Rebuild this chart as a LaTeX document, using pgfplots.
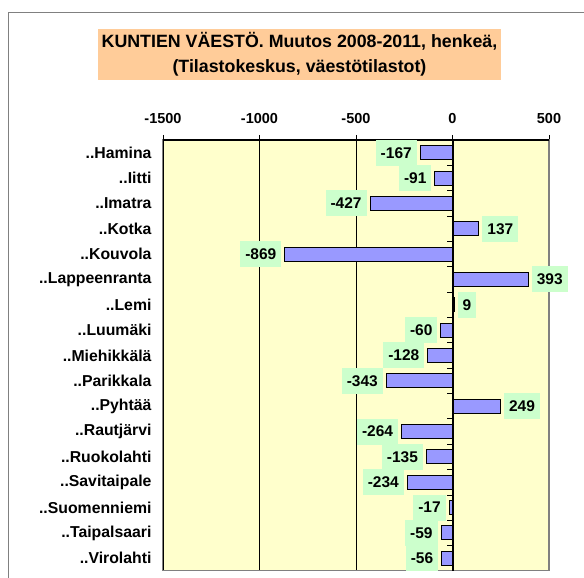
\documentclass[border=0pt]{standalone}
\usepackage{fontspec}
\setmainfont{Liberation Sans}
\usepackage{pgfplots}
\pgfplotsset{compat=1.18}
\definecolor{barfill}{HTML}{9999FF}
\definecolor{plotbg}{HTML}{FFFFCC}
\definecolor{lblbg}{HTML}{CCFFCC}
\definecolor{titlebg}{HTML}{FFCC99}
\definecolor{framegray}{HTML}{808080}

\begin{document}
\begin{tikzpicture}
\useasboundingbox (0pt,0pt) rectangle (584pt,578pt);
\draw[framegray, line width=1pt] (8pt,-5pt) -- (8pt,565pt) -- (590pt,565pt);

\begin{axis}[
  at={(163pt,7pt)}, anchor=south west,
  scale only axis, width=386pt, height=431pt,
  xbar, bar width=14pt, bar shift=0pt,
  xmin=-1500, xmax=500,
  ymin=-0.5, ymax=16.5,
  xtick={-1500,-1000,-500,0,500},
  xtick pos=upper, xticklabel pos=upper,
  tick align=outside,
  major tick length=5pt,
  ytick={0,...,16},
  yticklabels={..Virolahti,..Taipalsaari,..Suomenniemi,..Savitaipale,..Ruokolahti,..Rautjärvi,..Pyhtää,..Parikkala,..Miehikkälä,..Luumäki,..Lemi,..Lappeenranta,..Kouvola,..Kotka,..Imatra,..Iitti,..Hamina},
  ytick style={draw=none},
  xmajorgrids, grid style={black, line width=0.8pt},
  axis background/.style={fill=plotbg},
  axis line style={framegray, line width=1pt},
  x tick style={black, line width=0.8pt},
  /pgf/number format/assume math mode=true,
  /pgf/number format/1000 sep={},
  xticklabel style={font=\bfseries\fontsize{14.5}{16}\selectfont, yshift=8pt},
  yticklabel style={font=\bfseries\fontsize{15.8}{17}\selectfont, xshift=-3pt},
  title={KUNTIEN VÄESTÖ. Muutos 2008-2011, henkeä,\\(Tilastokeskus, väestötilastot)},
  title style={at={(axis description cs:0.3536,1.1844)}, anchor=center,
    fill=titlebg, minimum width=403pt, minimum height=51pt, align=center,
    inner sep=0pt, font=\bfseries\fontsize{17.8}{25}\selectfont},
  nodes near coords,
  every node near coord/.append style={fill=lblbg, text=black,
    font=\bfseries\fontsize{15.5}{17}\selectfont,
    inner xsep=5pt, inner ysep=0pt, minimum height=26pt},
]
% negative changes
\addplot[fill=barfill, draw=black, line width=1pt,
  every node near coord/.append style={anchor=east, xshift=-3pt}]
  coordinates {(-167,16) (-91,15) (-427,14) (-869,12) (-60,9) (-128,8)
    (-343,7) (-264,5) (-135,4) (-234,3) (-17,2) (-59,1) (-56,0)};
% positive changes
\addplot[fill=barfill, draw=black, line width=1pt,
  every node near coord/.append style={anchor=west, xshift=3pt}]
  coordinates {(137,13) (393,11) (9,10) (249,6)};

\draw[framegray, line width=2pt] (axis cs:500,16.5) -- (axis cs:500,-0.5) -- (axis cs:-1500,-0.5);
\draw[black, line width=2pt] (axis cs:0,16.5) -- (axis cs:0,-0.5);
\draw[black, line width=2pt] (axis cs:-1500,16.5) -- (axis cs:500,16.5);
\pgfplotsinvokeforeach{0,...,16}{
  \draw[black, line width=0.8pt] (axis cs:0,#1-0.5) -- (axis cs:-26,#1-0.5);
}
\end{axis}
\end{tikzpicture}
\end{document}
